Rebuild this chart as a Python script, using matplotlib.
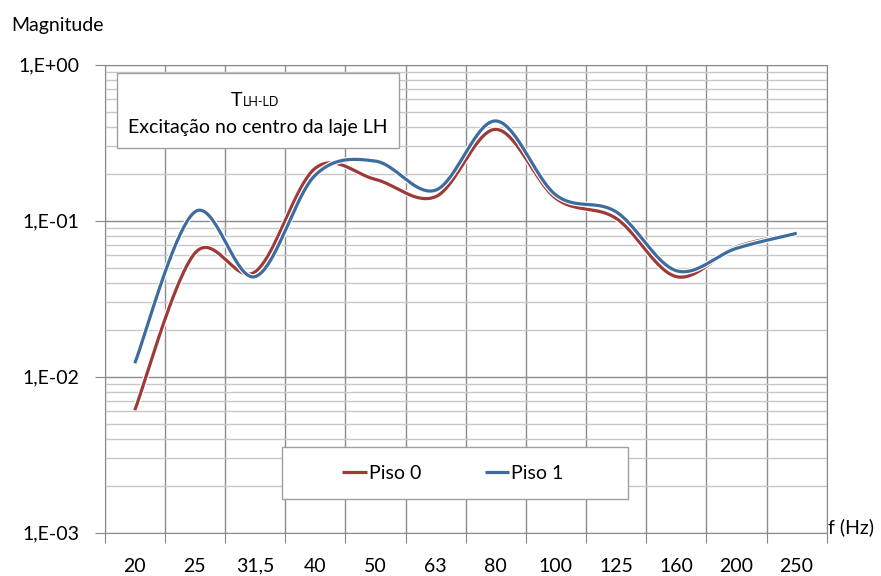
import numpy as np
import matplotlib
matplotlib.use("Agg")
import matplotlib.pyplot as plt
import matplotlib.patheffects as pe
from matplotlib.patches import Rectangle

plt.rcParams['font.family'] = ['Lato', 'DejaVu Sans']

# Dados
freqs = ["20", "25", "31,5", "40", "50", "63", "80", "100", "125", "160", "200", "250"]
piso0 = [0.0061, 0.062, 0.047, 0.217, 0.184, 0.1425, 0.385, 0.139, 0.1035, 0.0438, 0.068, 0.083]
piso1 = [0.0122, 0.114, 0.0438, 0.196, 0.241, 0.157, 0.436, 0.146, 0.114, 0.0478, 0.0665, 0.083]

red = '#9E3A38'
blue = '#3F6C9F'
fs = 14


# Linha suavizada tipo Excel (Bezier / Catmull-Rom em escala log)
def smooth(values, n=40):
    x = np.arange(len(values), dtype=float)
    y = np.log10(values)
    xs, ys = [], []
    for i in range(len(x) - 1):
        x0, y0 = x[max(i - 1, 0)], y[max(i - 1, 0)]
        x1, y1 = x[i], y[i]
        x2, y2 = x[i + 1], y[i + 1]
        x3, y3 = x[min(i + 2, len(x) - 1)], y[min(i + 2, len(x) - 1)]
        c1 = (x1 + (x2 - x0) / 6, y1 + (y2 - y0) / 6)
        c2 = (x2 - (x3 - x1) / 6, y2 - (y3 - y1) / 6)
        t = np.linspace(0, 1, n)
        bx = (1 - t) ** 3 * x1 + 3 * (1 - t) ** 2 * t * c1[0] + 3 * (1 - t) * t ** 2 * c2[0] + t ** 3 * x2
        by = (1 - t) ** 3 * y1 + 3 * (1 - t) ** 2 * t * c1[1] + 3 * (1 - t) * t ** 2 * c2[1] + t ** 3 * y2
        xs.extend(bx)
        ys.extend(by)
    return np.array(xs), 10 ** np.array(ys)


fig = plt.figure(figsize=(8.81, 5.76), dpi=100)
ax = fig.add_axes([104.7 / 881, 1 - 532.7 / 576, 722 / 881, 468 / 576])

ax.set_yscale('log')
ax.set_ylim(1e-3, 1)
ax.set_xlim(-0.5, len(freqs) - 0.5)

# grelha
ax.set_yticks([1e-3, 1e-2, 1e-1, 1])
ax.set_yticklabels(['1,E-03', '1,E-02', '1,E-01', '1,E+00'])
ax.yaxis.set_minor_locator(matplotlib.ticker.LogLocator(base=10, subs=np.arange(2, 10)))
ax.yaxis.set_minor_formatter(matplotlib.ticker.NullFormatter())
ax.tick_params(axis='y', which='minor', length=0)
ax.tick_params(axis='y', which='major', length=7, color='#868686', labelsize=fs, pad=11)

ax.set_xticks(np.arange(len(freqs) + 1) - 0.5, minor=False)
ax.set_xticklabels([])
ax.set_xticks(np.arange(len(freqs)), minor=True)
ax.set_xticklabels(freqs, minor=True)
ax.tick_params(axis='x', which='major', length=7, color='#868686')
ax.tick_params(axis='x', which='minor', length=0, labelsize=fs, pad=28)
for lbl in ax.get_xticklabels(minor=True):
    lbl.set_verticalalignment('baseline')

ax.grid(True, which='major', axis='both', color='#8c8c8c', lw=1)
ax.grid(True, which='minor', axis='y', color='#c8c8c8', lw=1)
ax.set_axisbelow(True)
for s in ax.spines.values():
    s.set_color('#8c8c8c')

outline = [pe.Stroke(linewidth=4, foreground='white'), pe.Normal()]
for vals, col, lab in [(piso0, red, 'Piso 0'), (piso1, blue, 'Piso 1')]:
    sx, sy = smooth(vals)
    ax.plot(sx, sy, color=col, lw=2.3, label=lab, solid_capstyle='butt',
            path_effects=outline)

# caixa de texto
fig.patches.append(Rectangle((116.7 / 881, 1 - 148.3 / 576), 282.6 / 881, 75.6 / 576,
                             transform=fig.transFigure, facecolor='white',
                             edgecolor='#a0a0a0', lw=1, zorder=5))
fig.text(242 / 881, 1 - 106 / 576, 'T', ha='right', va='baseline', fontsize=fs, zorder=6)
fig.text(242.5 / 881, 1 - 106 / 576, 'LH-LD', ha='left', va='baseline', fontsize=9, zorder=6)
fig.text(258 / 881, 1 - 133.3 / 576, 'Excitação no centro da laje LH', ha='center',
         va='baseline', fontsize=fs, zorder=6)

# legenda
fig.patches.append(Rectangle((282.3 / 881, 1 - 499.3 / 576), 346 / 881, 52.6 / 576,
                             transform=fig.transFigure, facecolor='white',
                             edgecolor='#a0a0a0', lw=1, zorder=5))
leg = fig.legend(loc='center', bbox_to_anchor=(453 / 881, 1 - 473.5 / 576), ncol=2,
                 frameon=False, fontsize=fs, handlelength=1.25, handletextpad=0.1,
                 columnspacing=3.3)
leg.set_zorder(6)
for h in leg.get_lines():
    h.set_path_effects([])
    h.set_linewidth(2.3)

fig.text(11 / 881, 1 - 25 / 576, 'Magnitude', ha='left', va='center', fontsize=fs)
fig.text(828 / 881, 1 - 527 / 576, 'f (Hz)', ha='left', va='center', fontsize=fs)

fig.savefig('out.png', dpi=100)
